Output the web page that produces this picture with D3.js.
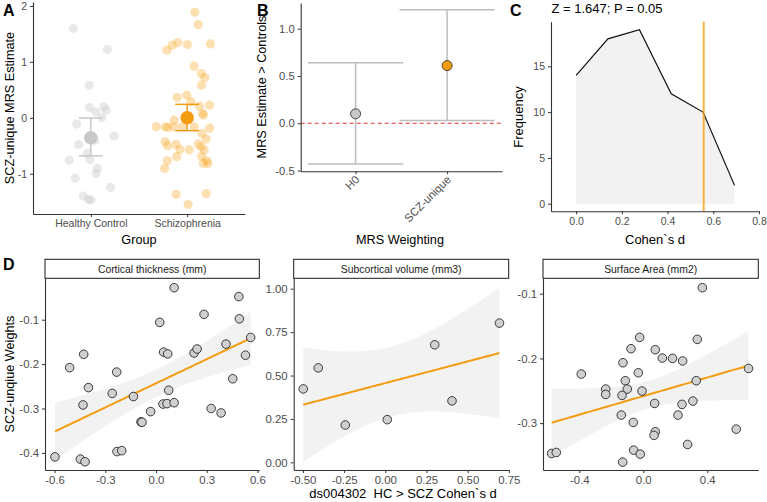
<!DOCTYPE html>
<html><head><meta charset="utf-8">
<script src="https://cdn.jsdelivr.net/npm/d3@7"></script>
<style>body{margin:0;background:#fff}svg{display:block;font-family:"Liberation Sans",Arial,sans-serif}</style>
</head><body>
<svg id="c" width="767" height="502"></svg>
<script>
// ---------- DATA ----------
// Panel A
const groups = ["Healthy Control", "Schizophrenia"];
const hcJitter = [-0.183,0.172,-0.017,-0.017,0.134,0.052,0.162,0.114,-0.148,0.241,0.041,-0.128,-0.038,-0.224,-0.01,0.069,0.055,-0.162,0.203,-0.079,-0.024,0.003];
const hcValues = [1.595,1.22,0.58,0.185,0.196,0.107,0.137,0.006,-0.113,-0.327,-0.40,-0.476,-0.637,-0.756,-0.744,-0.905,-0.994,-1.083,-1.244,-1.40,-1.458,-1.47];
const sczJitter = [0.079,0.114,-0.21,-0.155,-0.097,0.003,0.241,0.072,0.145,0.183,0.148,-0.003,-0.103,0.038,0.128,0.231,0.159,0.169,-0.134,-0.321,-0.228,-0.2,-0.141,-0.052,0.072,0.234,0.155,0.197,-0.228,-0.117,-0.203,-0.076,0.021,0.114,0.145,0.176,0.148,-0.11,0.203,-0.207,0.169,0.214,-0.234,-0.114,0.197,0.01];
const sczValues = [1.887,1.667,1.208,1.298,1.345,1.31,1.321,0.923,0.792,0.72,0.583,0.405,0.363,0.286,0.208,0.226,0.077,0.048,-0.042,-0.161,-0.161,-0.173,-0.161,-0.161,-0.161,-0.185,-0.28,-0.381,-0.43,-0.476,-0.5,-0.565,-0.571,-0.47,-0.518,-0.577,-0.69,-0.696,-0.768,-0.768,-0.815,-0.815,-0.905,-1.369,-1.357,-1.548];
const groupMean = [-0.357, 0.0];
const groupLo = [-0.68, -0.23];
const groupHi = [-0.005, 0.24];
const yTicksA = [-1, 0, 1, 2];

// Panel B
const weightings = ["H0", "SCZ-unique"];
const weightEst = [0.10, 0.61];
const weightLo = [-0.43, 0.03];
const weightHi = [0.64, 1.20];
const yTicksB = [-0.5, 0.0, 0.5, 1.0];

// Panel C
const cohenD = [0, 0.139, 0.277, 0.416, 0.555, 0.693];
const frequency = [14, 18, 19, 12, 10, 2];
const observedD = 0.558;
const titleC = "Z = 1.647; P = 0.05";
const xTicksC = [0, 0.2, 0.4, 0.6, 0.8];
const yTicksC = [0, 5, 10, 15];

// Panel D
const facetNames = ["Cortical thickness (mm)", "Subcortical volume (mm3)", "Surface Area (mm2)"];
const ctX = [0.107,0.49,0.284,0.493,0.022,0.225,0.243,0.045,0.069,0.414,0.56,0.529,-0.428,-0.511,0.454,-0.40,-0.233,-0.259,-0.134,0.075,0.041,0.065,0.107,-0.432,-0.032,0.326,0.385,-0.089,-0.083,-0.231,-0.203,-0.598,-0.448,-0.42];
const ctY = [-0.028,-0.048,-0.088,-0.098,-0.106,-0.175,-0.166,-0.173,-0.177,-0.155,-0.140,-0.180,-0.178,-0.208,-0.233,-0.253,-0.218,-0.266,-0.273,-0.259,-0.29,-0.289,-0.287,-0.292,-0.307,-0.30,-0.31,-0.330,-0.331,-0.397,-0.395,-0.409,-0.414,-0.42];
const svX = [-0.498,-0.407,-0.243,0.012,0.30,0.405,0.693];
const svY = [0.423,0.544,0.215,0.246,0.677,0.354,0.802];
const saX = [0.369,-0.023,-0.077,0.075,0.119,0.183,0.246,0.3375,-0.127,-0.3875,-0.031,-0.1125,0.331,0.658,-0.235,-0.1,-0.008,-0.235,-0.133,0.071,0.242,0.31,-0.1375,0.217,-0.0625,0.075,0.067,0.277,0.581,-0.06,-0.019,-0.573,-0.544,-0.129];
const saY = [-0.0907,-0.1675,-0.185,-0.1866,-0.1995,-0.20,-0.204,-0.1706,-0.2067,-0.2242,-0.2222,-0.2345,-0.2345,-0.2155,-0.2474,-0.2474,-0.2505,-0.2557,-0.2572,-0.2696,-0.2711,-0.266,-0.2876,-0.2876,-0.299,-0.3134,-0.319,-0.333,-0.3093,-0.3418,-0.348,-0.347,-0.3454,-0.3603];
const xTicksD = [[-0.6,-0.3,0,0.3,0.6],[-0.5,-0.25,0,0.25,0.5,0.75],[-0.4,0,0.4]];
const yTicksD = [[-0.4,-0.3,-0.2,-0.1],[0,0.25,0.5,0.75,1],[-0.3,-0.2,-0.1]];

// ---------- STYLE ----------
const TICK_COL = "#4d4d4d", AXIS_COL = "#333333", TITLE_FS = 12.7;
const ORANGE = "#f39c12", GREY = "#c8c8c8";
const svg = d3.select("#c");
svg.append("rect").attr("width",767).attr("height",502).attr("fill","#fff");

const hy = s => s.replace(/\u2212/g, "-");
function styleAxis(g, fs){
  g.select(".domain").attr("stroke",AXIS_COL).attr("stroke-width",1.1);
  g.selectAll(".tick line").attr("stroke",AXIS_COL).attr("stroke-width",1);
  g.selectAll(".tick text").attr("fill",TICK_COL).style("font-size",fs+"px").style("font-family","Liberation Sans, Arial, sans-serif");
  return g;
}
function label(txt,x,y,opts={}){
  const t = svg.append("text").attr("x",x).attr("y",y).text(txt)
    .attr("font-size",(opts.size||TITLE_FS)+"px").attr("fill",opts.fill||"#000")
    .attr("text-anchor",opts.anchor||"middle");
  if(opts.bold) t.attr("font-weight","bold");
  if(opts.rotate) t.attr("transform",`rotate(-90,${x},${y})`);
  return t;
}

// ---------- PANEL A ----------
{
  const FS = 10.5;
  const x = d3.scalePoint().domain(groups).range([33,245]).padding(0.6);
  const step = x.step();
  const y = d3.scaleLinear().domain([-1.72,2.07]).range([214,2]);
  const g = svg.append("g");
  const hc = hcValues.map((v,i)=>({x:x(groups[0])+hcJitter[i]*step,y:y(v)}));
  const sz = sczValues.map((v,i)=>({x:x(groups[1])+sczJitter[i]*step,y:y(v)}));
  g.selectAll(".hc").data(hc).join("circle").attr("cx",d=>d.x).attr("cy",d=>d.y).attr("r",4.6)
    .attr("fill","#c8c8c8").attr("fill-opacity",0.4);
  g.selectAll(".sz").data(sz).join("circle").attr("cx",d=>d.x).attr("cy",d=>d.y).attr("r",4.6)
    .attr("fill","#f5a623").attr("fill-opacity",0.35);
  groups.forEach((gr,i)=>{
    const col = i===0 ? GREY : ORANGE;
    const cx = x(gr), hw = 12;
    g.append("line").attr("x1",cx).attr("x2",cx).attr("y1",y(groupLo[i])).attr("y2",y(groupHi[i])).attr("stroke",col).attr("stroke-width",1.5);
    [groupLo[i],groupHi[i]].forEach(v=>g.append("line").attr("x1",cx-hw).attr("x2",cx+hw).attr("y1",y(v)).attr("y2",y(v)).attr("stroke",col).attr("stroke-width",1.5));
    g.append("circle").attr("cx",cx).attr("cy",y(groupMean[i])).attr("r",6.8).attr("fill",col);
  });
  styleAxis(svg.append("g").attr("transform","translate(33,0)").call(d3.axisLeft(y).tickValues(yTicksA).tickSize(3).tickSizeOuter(0).tickFormat(d=>hy(d3.format("d")(d)))),FS);
  styleAxis(svg.append("g").attr("transform","translate(0,214)").call(d3.axisBottom(x).tickSize(3).tickSizeOuter(0)),FS);
  label("SCZ-unique MRS Estimate",14,108,{rotate:true});
  label("Group",139,244);
  label("A",3,16,{anchor:"start",bold:true,size:16});
}

// ---------- PANEL B ----------
{
  const FS = 11.3;
  const x = d3.scalePoint().domain(weightings).range([300.7,502]).padding(0.6);
  const step = x.step();
  const y = d3.scaleLinear().domain([-0.508,1.272]).range([171.3,3]);
  const g = svg.append("g");
  g.append("line").attr("x1",300.7).attr("x2",502).attr("y1",y(0)).attr("y2",y(0))
    .attr("stroke","#e8362a").attr("stroke-width",1).attr("stroke-dasharray","4,3");
  weightings.forEach((w,i)=>{
    const cx = x(w), hw = 0.52*step;
    g.append("line").attr("x1",cx).attr("x2",cx).attr("y1",y(weightLo[i])).attr("y2",y(weightHi[i])).attr("stroke","#bdbdbd").attr("stroke-width",1.5);
    [weightLo[i],weightHi[i]].forEach(v=>g.append("line").attr("x1",cx-hw).attr("x2",cx+hw).attr("y1",y(v)).attr("y2",y(v)).attr("stroke","#bdbdbd").attr("stroke-width",1.5));
    g.append("circle").attr("cx",cx).attr("cy",y(weightEst[i])).attr("r",5)
      .attr("fill",i===0?GREY:ORANGE).attr("stroke","#222").attr("stroke-width",0.8);
  });
  styleAxis(svg.append("g").attr("transform","translate(300.7,0)").call(d3.axisLeft(y).tickValues(yTicksB).tickSize(3).tickSizeOuter(0).tickFormat(d=>hy(d3.format(".1f")(d)))),FS);
  const ax = styleAxis(svg.append("g").attr("transform","translate(0,171.3)").call(d3.axisBottom(x).tickSize(3).tickSizeOuter(0)),FS);
  ax.selectAll(".tick text").attr("text-anchor","end").attr("dy",null).attr("y",null)
    .attr("transform","translate(4,9) rotate(-45)");
  label("MRS Estimate > Controls",266,87,{rotate:true});
  label("MRS Weighting",400,244);
  label("B",257,16,{anchor:"start",bold:true,size:16});
}

// ---------- PANEL C ----------
{
  const FS = 10.5;
  const x = d3.scaleLinear().domain([-0.11,0.8]).range([551,759]);
  const y = d3.scaleLinear().domain([-0.83,19.87]).range([211.3,21.7]);
  const pts = cohenD.map((d,i)=>[d,frequency[i]]);
  svg.append("path").datum(pts).attr("d",d3.area().x(d=>x(d[0])).y0(y(0)).y1(d=>y(d[1])))
    .attr("fill","#f2f2f2");
  svg.append("path").datum(pts).attr("d",d3.line().x(d=>x(d[0])).y(d=>y(d[1])))
    .attr("fill","none").attr("stroke","#111").attr("stroke-width",1.2);
  svg.append("line").attr("x1",x(observedD)).attr("x2",x(observedD)).attr("y1",21.7).attr("y2",211.3)
    .attr("stroke","#f5a623").attr("stroke-opacity",0.85).attr("stroke-width",2);
  styleAxis(svg.append("g").attr("transform","translate(551,0)").call(d3.axisLeft(y).tickValues(yTicksC).tickSize(3).tickSizeOuter(0)),FS);
  styleAxis(svg.append("g").attr("transform","translate(0,211.3)").call(d3.axisBottom(x).tickValues(xTicksC).tickSize(3).tickSizeOuter(0).tickFormat(d3.format(".1f"))),FS);
  label(titleC,551.5,13,{anchor:"start",size:13});
  label("C",510,16,{anchor:"start",bold:true,size:16});
  label("Frequency",523,117,{rotate:true,size:13});
  label("Cohen`s d",655,244,{size:13});
}

// ---------- PANEL D ----------
{
  const FS = 11.4;
  const facets = [
    {xs:ctX, ys:ctY, xr:[45,259.3], xd:[-0.657,0.611], yd:[-0.4385,-0.0068]},
    {xs:svX, ys:svY, xr:[293.7,508.7], xd:[-0.556,0.749], yd:[-0.044,1.06]},
    {xs:saX, ys:saY, xr:[543,758.3], xd:[-0.627,0.719], yd:[-0.3725,-0.0762]}
  ];
  const tcrit = {5:2.571, 31:2.040, 32:2.037};
  const fmtsX = [".1f",".2f",".1f"], fmtsY = [".1f",".2f",".1f"];
  const yTop = 278.3, yBot = 470;
  facets.forEach((f,k)=>{
    const x = d3.scaleLinear().domain(f.xd).range(f.xr);
    const y = d3.scaleLinear().domain(f.yd).range([yBot,yTop]);
    // strip
    svg.append("rect").attr("x",f.xr[0]).attr("y",259.3).attr("width",f.xr[1]-f.xr[0]).attr("height",yTop-259.3)
      .attr("fill","#fff").attr("stroke","#1a1a1a").attr("stroke-width",1);
    label(facetNames[k],(f.xr[0]+f.xr[1])/2,272.6,{size:10.4,fill:"#1a1a1a"});
    // linear fit with 95% CI
    const n = f.xs.length;
    const xm = d3.mean(f.xs), ym = d3.mean(f.ys);
    let sxx=0, sxy=0;
    f.xs.forEach((v,i)=>{sxx+=(v-xm)**2; sxy+=(v-xm)*(f.ys[i]-ym);});
    const b = sxy/sxx, a = ym - b*xm;
    let sse=0; f.xs.forEach((v,i)=>{sse+=(f.ys[i]-a-b*v)**2;});
    const s = Math.sqrt(sse/(n-2)), t = tcrit[n-2] || 2.0;
    const [mn,mx] = d3.extent(f.xs);
    const grid = d3.range(80).map(i=>mn+(mx-mn)*i/79).map(v=>{
      const fit=a+b*v, se=s*Math.sqrt(1/n+(v-xm)**2/sxx);
      return {x:v, fit, lo:fit-t*se, hi:fit+t*se};
    });
    const cl = svg.append("defs").append("clipPath").attr("id","clip"+k);
    cl.append("rect").attr("x",f.xr[0]).attr("y",yTop).attr("width",f.xr[1]-f.xr[0]).attr("height",yBot-yTop);
    const g = svg.append("g").attr("clip-path",`url(#clip${k})`);
    g.append("path").datum(grid).attr("d",d3.area().x(d=>x(d.x)).y0(d=>y(d.lo)).y1(d=>y(d.hi)))
      .attr("fill","#e6e6e6").attr("fill-opacity",0.5);
    g.append("path").datum(grid).attr("d",d3.line().x(d=>x(d.x)).y(d=>y(d.fit)))
      .attr("fill","none").attr("stroke",ORANGE).attr("stroke-width",2);
    g.selectAll(".p").data(f.xs.map((v,i)=>[v,f.ys[i]])).join("circle")
      .attr("cx",d=>x(d[0])).attr("cy",d=>y(d[1])).attr("r",4.3)
      .attr("fill","#d0d0d0").attr("stroke","#111").attr("stroke-width",0.8);
    styleAxis(svg.append("g").attr("transform",`translate(${f.xr[0]},0)`).call(d3.axisLeft(y).tickValues(yTicksD[k]).tickSize(3).tickSizeOuter(0).tickFormat(d=>hy(d3.format(fmtsY[k])(d)))),FS);
    styleAxis(svg.append("g").attr("transform",`translate(0,${yBot})`).call(d3.axisBottom(x).tickValues(xTicksD[k]).tickSize(3).tickSizeOuter(0).tickFormat(d=>hy(d3.format(fmtsX[k])(d)))),FS);
  });
  label("SCZ-unqiue Weights",14,374,{rotate:true});
  label("ds004302  HC > SCZ Cohen`s d",403,498,{size:13}).attr("xml:space","preserve").style("white-space","pre");
  label("D",3,270,{anchor:"start",bold:true,size:16});
}
</script>
</body></html>
